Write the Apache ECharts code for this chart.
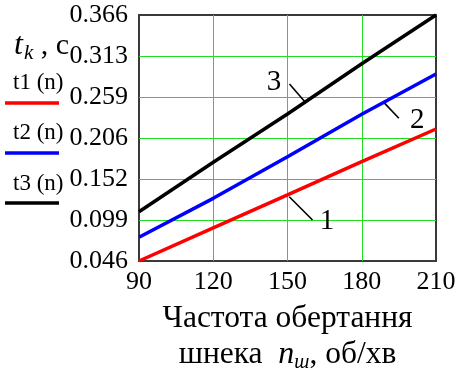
<!DOCTYPE html>
<html>
<head>
<meta charset="utf-8">
<script src="https://cdn.jsdelivr.net/npm/echarts@6/dist/echarts.min.js"></script>
<style>
  html, body { margin: 0; padding: 0; background: #fff; }
  #chart { width: 461px; height: 371px; }
</style>
</head>
<body>
<div id="chart"></div>
<script>
// Screw speed, rpm
const nValues = [90, 120, 150, 180, 210];
// Time curves t1(n), t2(n), t3(n), s
const t1Values = [0.046, 0.089, 0.1319, 0.1752, 0.2177];
const t2Values = [0.0768, 0.1275, 0.1817, 0.2368, 0.2893];
const t3Values = [0.1101, 0.1745, 0.2372, 0.3025, 0.366];

// Axis ticks
const xTicks = [90, 120, 150, 180, 210];
const yTickLabels = ['0.046', '0.099', '0.152', '0.206', '0.259', '0.313', '0.366'];
const yMin = 0.046, yMax = 0.366;

// Curve numbering: leader segments and digit positions, in data units
const curveNames = ['1', '2', '3'];
const leaderStarts = [[150.7, 0.1296], [188.9, 0.2524], [150.8, 0.2762]];
const leaderEnds = [[160.1, 0.0993], [195.0, 0.2316], [157.2, 0.2524]];
const numberPositions = [[166.0, 0.098], [202.4, 0.229], [144.5, 0.278]];

const serif = 'Liberation Serif';
const yStep = (yMax - yMin) / (yTickLabels.length - 1);

const curve = (name, ys, color) => ({
  name: name,
  type: 'line',
  data: nValues.map((n, i) => [n, ys[i]]),
  symbol: 'none',
  clip: false,
  lineStyle: { color: color, width: 3.5 },
  z: 5
});

const leaders = leaderStarts.map((s, i) => ({
  type: 'line',
  data: [s, leaderEnds[i]],
  symbol: 'none',
  silent: true,
  lineStyle: { color: '#000', width: 1.6 },
  z: 4
}));

const gridLine = { show: true, showMinLine: false, showMaxLine: false, lineStyle: { color: '#22dd22', width: 1 } };

const chart = echarts.init(document.getElementById('chart'), null, { renderer: 'canvas' });
chart.setOption({
  animation: false,
  backgroundColor: '#fff',
  grid: {
    left: 139, top: 15, width: 297, height: 246,
    containLabel: false, outerBoundsMode: 'none',
    show: true, borderColor: '#3a3a3a', borderWidth: 2, backgroundColor: 'transparent'
  },
  xAxis: {
    type: 'value', min: xTicks[0], max: xTicks[xTicks.length - 1],
    interval: xTicks[1] - xTicks[0],
    axisLine: { show: false }, axisTick: { show: false },
    splitLine: gridLine,
    axisLabel: { fontFamily: serif, fontSize: 26, color: '#000', margin: 8 },
    name: 'Частота обертання\nшнека  {i|n}{s|ш}, об/хв',
    nameLocation: 'middle', nameGap: 40,
    nameTextStyle: {
      fontFamily: serif, fontSize: 31.5, color: '#000', lineHeight: 36,
      rich: {
        i: { fontFamily: serif, fontSize: 32, fontStyle: 'italic', color: '#000', lineHeight: 36 },
        s: { fontFamily: serif, fontSize: 20, fontStyle: 'italic', color: '#000', verticalAlign: 'bottom', padding: [14, 0, 0, 0], lineHeight: 36 }
      }
    }
  },
  yAxis: {
    type: 'value', min: yMin, max: yMax, interval: yStep,
    axisLine: { show: false }, axisTick: { show: false },
    splitLine: gridLine,
    axisLabel: {
      fontFamily: serif, fontSize: 26, color: '#000', margin: 11,
      formatter: v => yTickLabels[Math.round((v - yMin) / yStep)] || ''
    }
  },
  series: [
    curve('t1(n)', t1Values, '#ff0000'),
    curve('t2(n)', t2Values, '#0000ff'),
    curve('t3(n)', t3Values, '#000000'),
    ...leaders,
    {
      type: 'scatter',
      data: numberPositions.map((p, i) => ({ value: p, name: curveNames[i] })),
      symbolSize: 0,
      silent: true,
      itemStyle: { opacity: 1 },
      label: {
        show: true, position: 'inside', formatter: p => p.name,
        fontFamily: serif, fontSize: 29, color: '#000', opacity: 1
      },
      z: 6
    }
  ],
  graphic: [
    // axis caption t_k , c
    {
      type: 'text', left: 14, top: 30,
      style: {
        text: '{t|t}{k|k}{c| , c}',
        rich: {
          t: { fontFamily: serif, fontSize: 32, fontStyle: 'italic', fill: '#000' },
          k: { fontFamily: serif, fontSize: 21, fontStyle: 'italic', fill: '#000', padding: [14, 0, 0, 1] },
          c: { fontFamily: serif, fontSize: 30, fill: '#000' }
        }
      }
    },
    // key
    { type: 'text', left: 13, top: 71, style: { text: 't1 (n)', fontFamily: serif, fontSize: 23, fill: '#000' } },
    { type: 'line', shape: { x1: 5, y1: 103, x2: 59, y2: 103 }, style: { stroke: '#ff0000', lineWidth: 3.5 } },
    { type: 'text', left: 13, top: 121, style: { text: 't2 (n)', fontFamily: serif, fontSize: 23, fill: '#000' } },
    { type: 'line', shape: { x1: 5, y1: 153, x2: 59, y2: 153 }, style: { stroke: '#0000ff', lineWidth: 3.5 } },
    { type: 'text', left: 13, top: 172, style: { text: 't3 (n)', fontFamily: serif, fontSize: 23, fill: '#000' } },
    { type: 'line', shape: { x1: 5, y1: 203, x2: 59, y2: 203 }, style: { stroke: '#000000', lineWidth: 3.5 } }
  ]
});
</script>
</body>
</html>
